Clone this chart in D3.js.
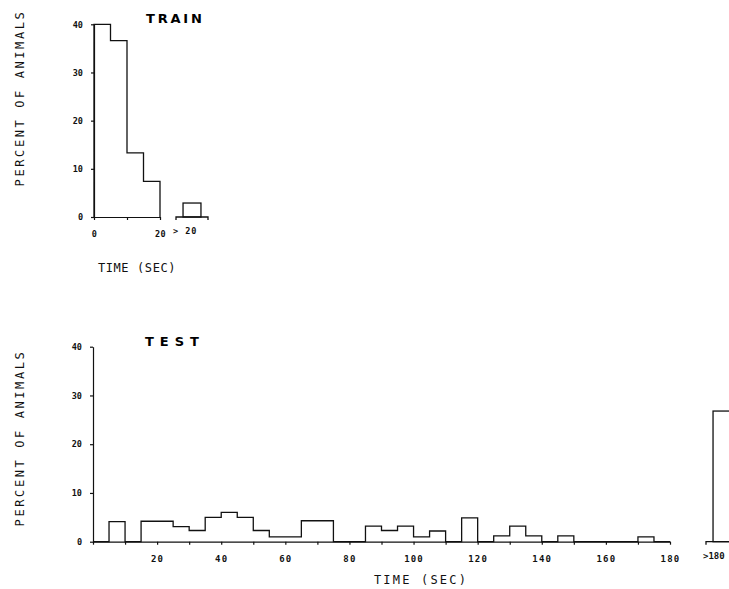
<!DOCTYPE html>
<html>
<head>
<meta charset="utf-8">
<script src="https://cdn.jsdelivr.net/npm/d3@7"></script>
<style>
  body { margin: 0; background: #fff; }
  svg { display: block; }
  .tick text, .lbl { font-family: "DejaVu Sans Mono", monospace; fill: #111; }
  .tick text { font-weight: bold; }
  .axis path, .axis line { stroke: #111; stroke-width: 1.2; }
  .hist { fill: none; stroke: #111; stroke-width: 1.3; }
</style>
</head>
<body>
<svg id="chart" width="729" height="589"></svg>
<script>
// bin width in seconds
const binWidth = 5;

// TRAIN: bins 0-5, 5-10, 10-15, 15-20 (percent), plus ">20"
const trainBins = [0, 5, 10, 15];
const trainValues = [40, 36.6, 13.3, 7.4];
const trainOver = 2.9;
const trainXTicks = [0, 10, 20];
const trainXLabels = [0, 20];

// TEST: 36 bins of 5 s, 0-180 s, plus ">180"
const testBins = d3.range(0, 180, 5);
const testValues = [
  0, 4.1, 0, 4.2, 4.2, 3.1, 2.3, 5.0, 6.0, 5.0, 2.3, 1.0,
  1.0, 4.3, 4.3, 0, 0, 3.2, 2.3, 3.2, 1.0, 2.2, 0, 4.9,
  0, 1.2, 3.2, 1.2, 0, 1.2, 0, 0, 0, 0, 1.0, 0
];
const testOver = 26.8;
const testXTicks = d3.range(0, 190, 10);
const testXLabels = d3.range(20, 200, 20);

const yTicks = [0, 10, 20, 30, 40];

const svg = d3.select("#chart");

const drawPanel = (cfg) => {
  const g = svg.append("g");

  const x = d3.scaleLinear().domain(cfg.xDomain).range(cfg.xRange);
  const y = d3.scaleLinear().domain([0, 40]).range(cfg.yRange);

  /* y axis */
  g.append("g")
    .attr("class", "axis")
    .attr("transform", `translate(${cfg.xRange[0]},0)`)
    .call(d3.axisLeft(y).tickValues(yTicks).tickSize(3).tickPadding(8).tickSizeOuter(0))
    .selectAll(".tick text")
    .style("font-size", "8.5px");

  /* x axis: ticks, then labels on selected ticks */
  g.append("g")
    .attr("class", "axis")
    .attr("transform", `translate(0,${cfg.yRange[0]})`)
    .call(
      d3.axisBottom(x)
        .tickValues(cfg.xTicks)
        .tickSize(3)
        .tickPadding(11)
        .tickSizeOuter(0)
        .tickFormat((d) => (cfg.xLabels.includes(d) ? d : ""))
    )
    .selectAll(".tick text")
    .style("font-size", cfg.tickFont)
    .style("letter-spacing", cfg.tickSpacing);

  /* histogram outline */
  const pts = [[cfg.bins[0], 0]];
  cfg.bins.forEach((b, i) => pts.push([b, cfg.values[i]]));
  pts.push([cfg.bins[cfg.bins.length - 1] + binWidth, 0]);

  const line = d3.line()
    .x((d) => x(d[0]))
    .y((d) => y(d[1]))
    .curve(d3.curveStepAfter);

  g.append("path").attr("class", "hist").attr("d", line(pts));

  /* overflow bin on its own short axis */
  const ox = d3.scaleLinear().domain([0, 1]).range(cfg.overRange);
  const base = cfg.yRange[0];
  g.append("path")
    .attr("class", "hist")
    .attr("d", `M${ox(0)},${base + 3}V${base}H${ox(1)}V${base + 3}`);
  g.append("rect")
    .attr("class", "hist")
    .attr("x", ox(0.22))
    .attr("width", ox(0.78) - ox(0.22))
    .attr("y", y(cfg.over))
    .attr("height", base - y(cfg.over));
  g.append("text")
    .attr("class", "lbl")
    .attr("x", ox(0) - 3)
    .attr("y", base + 17)
    .style("font-size", cfg.tickFont)
    .style("font-weight", "bold")
    .style("letter-spacing", cfg.overSpacing)
    .text(cfg.overLabel);

  /* titles and labels */
  g.append("text")
    .attr("x", cfg.title[1])
    .attr("y", cfg.title[2])
    .style("font-family", "DejaVu Sans, sans-serif")
    .style("font-weight", "bold")
    .style("font-size", "13px")
    .style("letter-spacing", cfg.title[3])
    .text(cfg.title[0]);

  g.append("text")
    .attr("class", "lbl")
    .attr("transform", `translate(24,${cfg.yLabelY}) rotate(-90)`)
    .attr("text-anchor", "middle")
    .style("font-size", "12px")
    .style("letter-spacing", "2.6px")
    .text("PERCENT OF ANIMALS");

  g.append("text")
    .attr("class", "lbl")
    .attr("x", cfg.xLabelPos[0])
    .attr("y", cfg.xLabelPos[1])
    .attr("text-anchor", "middle")
    .style("font-size", "12px")
    .style("letter-spacing", cfg.xLabelPos[2])
    .text("TIME (SEC)");
};

drawPanel({
  xDomain: [0, 20], xRange: [94, 160], yRange: [217, 24.3],
  bins: trainBins, values: trainValues, xTicks: trainXTicks, xLabels: trainXLabels,
  over: trainOver, overRange: [176, 208], overLabel: "> 20", overSpacing: "1px",
  tickFont: "8.5px", tickSpacing: "0.5px",
  title: ["TRAIN", 146, 23, "2.8px"], yLabelY: 98, xLabelPos: [137, 272, "0.6px"]
});

drawPanel({
  xDomain: [0, 180], xRange: [93, 670], yRange: [541.7, 346.7],
  bins: testBins, values: testValues, xTicks: testXTicks, xLabels: testXLabels,
  over: testOver, overRange: [706, 738], overLabel: ">180", overSpacing: "0px",
  tickFont: "9px", tickSpacing: "1.2px",
  title: ["TEST", 145, 346, "6px"], yLabelY: 438, xLabelPos: [421, 584, "2.2px"]
});
</script>
</body>
</html>
